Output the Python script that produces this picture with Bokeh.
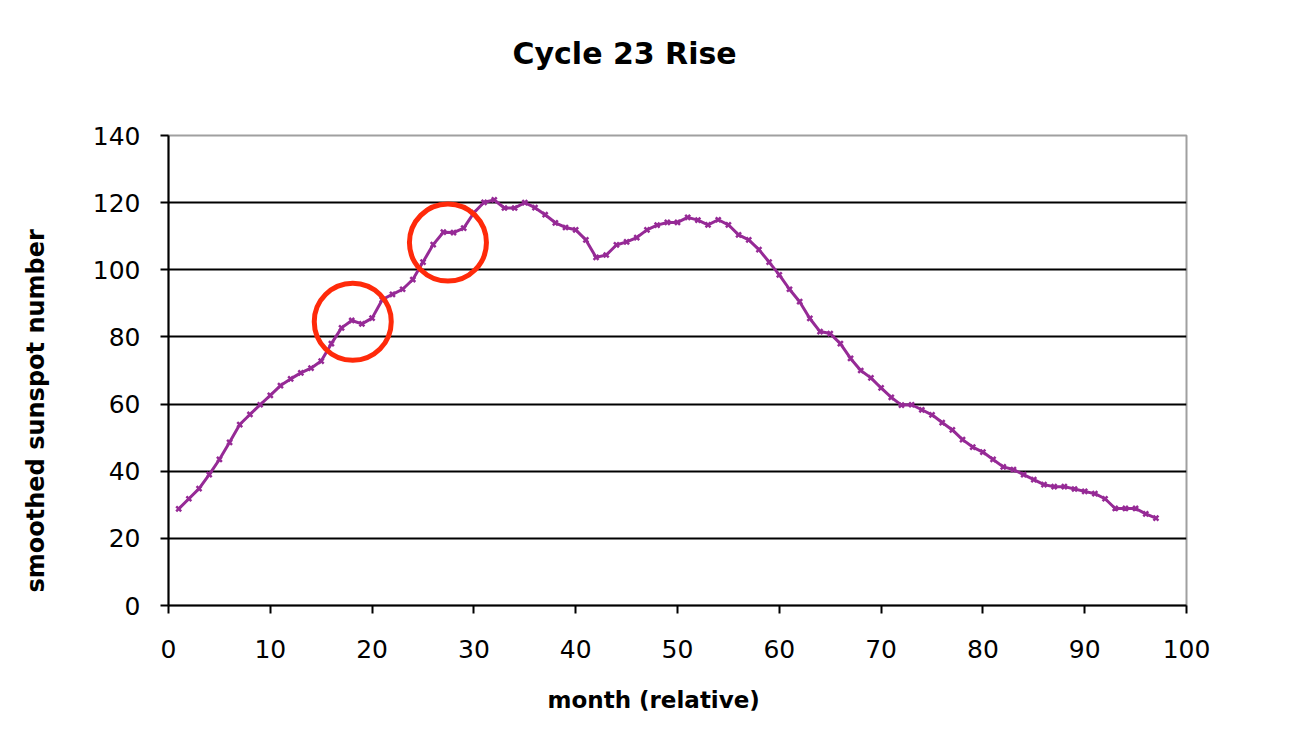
from bokeh.plotting import figure
from bokeh.models import Range1d, FixedTicker, Title, ColumnDataSource
from bokeh.embed import file_html
from bokeh.resources import INLINE

# ---- data ----
months = list(range(1, 98))
sunspots = [
    28.8, 31.8, 34.8, 39.0, 43.5, 48.6, 53.9, 56.9, 59.8, 62.6,
    65.5, 67.5, 69.3, 70.7, 72.8, 78.0, 82.7, 84.9, 83.9, 85.6,
    91.1, 92.7, 94.2, 97.1, 102.3, 107.5, 111.2, 111.1, 112.4, 117.0,
    120.1, 120.8, 118.4, 118.4, 120.0, 118.5, 116.4, 114.0, 112.6, 111.9,
    108.9, 103.7, 104.4, 107.4, 108.3, 109.6, 111.9, 113.3, 114.1, 114.1,
    115.6, 114.8, 113.4, 114.9, 113.4, 110.4, 108.9, 106.0, 102.3, 98.5,
    94.2, 90.5, 85.5, 81.6, 81.0, 78.0, 73.6, 70.0, 67.8, 64.8,
    62.0, 59.7, 59.8, 58.3, 56.8, 54.5, 52.3, 49.4, 47.2, 45.7,
    43.5, 41.3, 40.5, 39.0, 37.5, 36.0, 35.4, 35.4, 34.7, 34.0,
    33.3, 31.8, 28.9, 28.9, 28.9, 27.3, 26.0,
]
highlight_month = [18.1, 27.45]
highlight_value = [84.5, 108.1]
x_ticks = [0, 10, 20, 30, 40, 50, 60, 70, 80, 90, 100]
y_ticks = [0, 20, 40, 60, 80, 100, 120, 140]
title_text = "Cycle 23 Rise"
x_title = "month (relative)"
y_title = "smoothed sunspot number"

p = figure(width=1280, height=722, output_backend="svg", toolbar_location=None,
           x_range=Range1d(0, 100), y_range=Range1d(0, 140),
           min_border_left=168, min_border_right=94,
           min_border_top=135, min_border_bottom=117)
p.background_fill_color = "white"
p.border_fill_color = "white"
p.outline_line_color = "#a0a0a0"
p.outline_line_width = 2

for ax, ticks in ((p.xaxis[0], x_ticks), (p.yaxis[0], y_ticks)):
    ax.ticker = FixedTicker(ticks=ticks)
    ax.axis_line_color = "black"
    ax.axis_line_width = 2
    ax.major_tick_line_color = "black"
    ax.major_tick_line_width = 2
    ax.major_tick_in = 0
    ax.major_tick_out = 8
    ax.minor_tick_line_color = None
    ax.major_label_text_font = "DejaVu Sans"
    ax.major_label_text_font_size = "25px"
    ax.major_label_text_color = "black"
p.xaxis.major_label_standoff = 26
p.yaxis.major_label_standoff = 20

p.xgrid.grid_line_color = None
p.ygrid.ticker = FixedTicker(ticks=y_ticks[1:-1])
p.ygrid.grid_line_color = "black"
p.ygrid.grid_line_width = 2
p.ygrid.grid_line_alpha = 1.0

src = ColumnDataSource(dict(m=months, s=sunspots))
p.line("m", "s", source=src, line_color="#962A96", line_width=3)
p.scatter("m", "s", source=src, marker="x", size=7, line_color="#962A96", line_width=2.5)

hl = ColumnDataSource(dict(m=highlight_month, s=highlight_value))
p.scatter("m", "s", source=hl, marker="circle", size=77, fill_color=None,
          line_color="#FF2A0A", line_width=5)


def spacer(gap):
    # blank title used only to push the real titles outward
    return Title(text=" ", standoff=gap, text_font_size="1px", text_color="white")


def heading(text, size, offset):
    return Title(text=text, align="left", offset=offset, standoff=0,
                 text_font="DejaVu Sans", text_font_style="bold",
                 text_font_size=size, text_color="black")


p.add_layout(spacer(62), "above")
p.add_layout(heading(title_text, "30px", 344), "above")
p.add_layout(spacer(21), "below")
p.add_layout(heading(x_title, "23px", 379), "below")
p.add_layout(spacer(37), "left")
p.add_layout(heading(y_title, "24px", 13), "left")

open("out.html", "w").write(file_html(p, INLINE))
